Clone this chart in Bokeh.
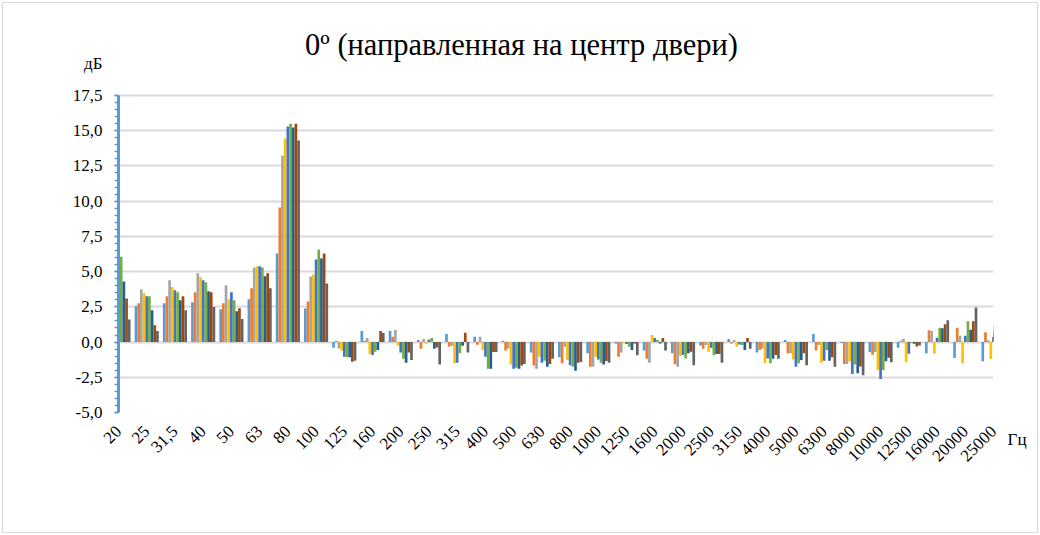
import math
from bokeh.plotting import figure
from bokeh.models import FixedTicker, Range1d, Label, LinearAxis, Title
from bokeh.embed import file_html
from bokeh.resources import INLINE

categories = ["20", "25", "31,5", "40", "50", "63", "80", "100", "125", "160",
              "200", "250", "315", "400", "500", "630", "800", "1000", "1250", "1600",
              "2000", "2500", "3150", "4000", "5000", "6300", "8000", "10000", "12500",
              "16000", "20000", "25000"]

ser1 = [3.0, 2.55, 2.76, 2.83, 2.33, 3.04, 6.29, 2.39, -0.4, 0.78, 0.78, 0.14, 0.57, 0.38, 0.1, -0.75,
        -1.08, -0.8, -0.1, -0.6, -0.8, -0.24, 0.21, -0.75, 0.14, 0.57, -0.07, -0.71, -0.4, -0.79, -1.14, -1.36]
ser2 = [3.6, 2.76, 3.25, 3.54, 2.76, 3.82, 9.55, 2.88, 0.1, 0.1, 0.38, -0.47, -0.33, -0.19, -0.6, -1.67,
        -1.5, -1.75, -1.04, -1.18, -1.58, -0.47, -0.1, -0.57, -0.8, -0.6, -1.55, -0.9, 0.1, 0.83, 1.02, 0.69]
ser3 = [4.6, 3.75, 4.39, 4.88, 4.03, 5.3, 13.24, 4.66, -0.45, 0.28, 0.85, 0.21, -0.26, 0.38, -0.45, -1.9,
        -0.33, -1.75, -0.75, -1.46, -1.75, -0.21, 0.14, -0.47, -0.8, -0.21, -1.55, -0.71, 0.24, 0.79, 0.45, 0.12]
ser4 = [5.2, 3.47, 3.9, 4.6, 3.04, 5.38, 14.44, 4.8, -0.6, -0.85, -0.26, -0.12, -1.5, -0.57, -1.6, -1.04,
        -1.27, -1.04, -0.05, 0.5, -0.99, -0.68, -0.33, -1.5, -1.23, -1.46, -1.36, -1.98, -1.43, -0.83, -1.5, -1.21]
ser5 = [5.6, 3.25, 3.68, 4.39, 3.54, 5.38, 15.3, 5.86, -1.04, -0.92, -0.75, 0.19, -1.46, -1.04, -1.9, -1.46,
        -1.65, -1.23, -0.14, 0.28, -0.92, -0.4, -0.17, -1.16, -1.75, -1.32, -2.26, -2.62, -0.83, 0.31, 0.45, 0.36]
ser6 = [6.05, 3.25, 3.54, 4.25, 2.97, 5.3, 15.5, 6.57, -1.08, -0.68, -1.18, 0.28, -0.8, -1.9, -1.82, -1.32,
        -1.75, -1.46, -0.33, 0.14, -1.16, -0.94, -0.21, -1.5, -1.5, -0.57, -1.6, -1.98, -0.05, 1.02, 1.48, 0.6]
ser7 = [4.3, 2.26, 2.97, 3.6, 2.19, 4.67, 15.22, 5.93, -1.08, -0.57, -1.46, -0.47, -0.26, -1.9, -1.9, -1.75,
        -2.03, -1.6, -0.57, -0.1, -0.8, -0.85, -0.57, -1.18, -1.27, -1.32, -2.21, -1.36, -0.12, 0.98, 0.88, 0.5]
ser8 = [3.1, 1.2, 3.25, 3.54, 2.4, 4.88, 15.5, 6.29, -1.4, 0.78, -0.75, -0.38, 0.66, -0.71, -1.67, -1.56,
        -1.46, -1.34, -0.1, 0.28, -0.68, -0.85, 0.28, -0.92, -0.8, -1.08, -1.74, -1.12, -0.31, 1.26, 1.48, 0.8]
ser9 = [1.6, 0.78, 2.26, 2.48, 1.63, 3.82, 14.3, 4.16, -1.32, 0.64, -1.27, -1.6, -0.75, -0.71, -1.56, -1.18,
        -1.41, -1.46, -0.94, -0.6, -1.65, -1.46, -0.47, -1.18, -1.65, -1.75, -2.36, -1.43, -0.24, 1.55, 2.45, 1.2]

series = [ser1, ser2, ser3, ser4, ser5, ser6, ser7, ser8, ser9]
colors = ["#5B9BD5", "#ED7D31", "#A5A5A5", "#FFC000", "#4472C4",
          "#70AD47", "#255E91", "#9E480E", "#636363"]

y_ticks = [-5.0, -2.5, 0.0, 2.5, 5.0, 7.5, 10.0, 12.5, 15.0, 17.5]
y_tick_labels = ["-5,0", "-2,5", "0,0", "2,5", "5,0", "7,5", "10,0", "12,5", "15,0", "17,5"]

title_text = "0º (направленная на центр двери)"
y_unit = "дБ"
x_unit = "Гц"

FONT = "Liberation Serif"

# ---- layout (pixels) ----
W, H = 1040, 535
AX_LEFT, AX_RIGHT = 118, 993        # left / right of plotting area
AX_TOP, AX_BOTTOM = 95, 412         # pixel rows of y = 17.5 and y = -5
FRAME_TOP = 10                      # frame reaches up so the title / unit can sit inside it
Y_MIN, Y_MAX = y_ticks[0], y_ticks[-1]
ppu = (AX_BOTTOM - AX_TOP) / (Y_MAX - Y_MIN)
ncat = len(categories)
ppx = (AX_RIGHT - AX_LEFT) / (ncat - 1)


def py_to_y(py):
    return Y_MAX + (AX_TOP - py) / ppu


def px_to_x(px):
    return (px - AX_LEFT) / ppx


p = figure(width=W, height=H, output_backend="svg", toolbar_location=None,
           x_range=Range1d(0, ncat - 1), y_range=Range1d(Y_MIN, py_to_y(FRAME_TOP)),
           min_border_left=AX_LEFT, min_border_right=W - AX_RIGHT,
           min_border_top=FRAME_TOP, min_border_bottom=H - AX_BOTTOM)
p.outline_line_color = None
p.background_fill_color = "white"
p.border_fill_color = "white"
p.border_fill_alpha = 0
p.styles = {"outline": "1px solid #D9D9D9", "outline-offset": "-3px", "background-color": "white"}

bw = 0.095
n = len(series)
for k, (ser, col) in enumerate(zip(series, colors)):
    xs = [i + (k - (n - 1) / 2) * bw for i in range(len(ser))]
    p.vbar(x=xs, top=ser, bottom=0, width=bw, fill_color=col, line_color=None)

# value axis: line + ticks only (labels are drawn by the axis added below)
yt = FixedTicker(ticks=y_ticks, minor_ticks=[Y_MIN + 0.5 * i for i in range(46)])
p.yaxis.ticker = yt
p.ygrid.ticker = yt
p.yaxis.bounds = (Y_MIN, Y_MAX)
p.yaxis.major_label_overrides = {t: "" for t in y_ticks}
p.yaxis.axis_line_color = "#5B9BD5"
p.yaxis.axis_line_width = 3
p.yaxis.major_tick_line_color = "#5B9BD5"
p.yaxis.minor_tick_line_color = "#5B9BD5"
p.yaxis.major_tick_line_width = 1.5
p.yaxis.minor_tick_line_width = 1.5
p.yaxis.major_tick_in = 0
p.yaxis.major_tick_out = 4
p.yaxis.minor_tick_in = 0
p.yaxis.minor_tick_out = 4
p.yaxis.major_label_standoff = 0

# value-axis labels, plus the unit "дБ" above them
y_db = py_to_y(63)
lab_axis = LinearAxis(ticker=FixedTicker(ticks=y_ticks + [y_db]),
                      major_label_overrides={**dict(zip(y_ticks, y_tick_labels)), y_db: y_unit},
                      axis_line_color=None, major_tick_line_color=None,
                      minor_tick_line_color=None, major_tick_out=0, major_tick_in=0,
                      major_label_standoff=12, major_label_text_font=FONT,
                      major_label_text_font_size="17px", major_label_text_color="#000000")
p.add_layout(lab_axis, "left")

p.ygrid.grid_line_color = "#D9D9D9"
p.ygrid.grid_line_width = 2
p.xgrid.visible = False

p.xaxis.ticker = FixedTicker(ticks=list(range(ncat)))
p.xaxis.major_label_overrides = {i: c for i, c in enumerate(categories)}
p.xaxis.axis_line_color = None
p.xaxis.major_tick_line_color = None
p.xaxis.minor_tick_line_color = None
p.xaxis.major_label_orientation = math.pi / 4
p.xaxis.major_label_standoff = 10
p.xaxis.major_label_text_font = FONT
p.xaxis.major_label_text_font_size = "17px"
p.xaxis.major_label_text_color = "#000000"

# unit of the category axis, right of the last label
p.add_layout(Title(text=x_unit, align="right", offset=-33, vertical_align="top", standoff=-80,
                   text_font=FONT, text_font_size="17px", text_font_style="normal",
                   text_color="#000000"), "below")

p.add_layout(Label(x=px_to_x(521), y=py_to_y(44), text=title_text, text_align="center",
                   text_baseline="middle", text_font=FONT, text_font_size="30.5px",
                   text_color="#000000"))

open("out.html", "w").write(file_html(p, INLINE))
